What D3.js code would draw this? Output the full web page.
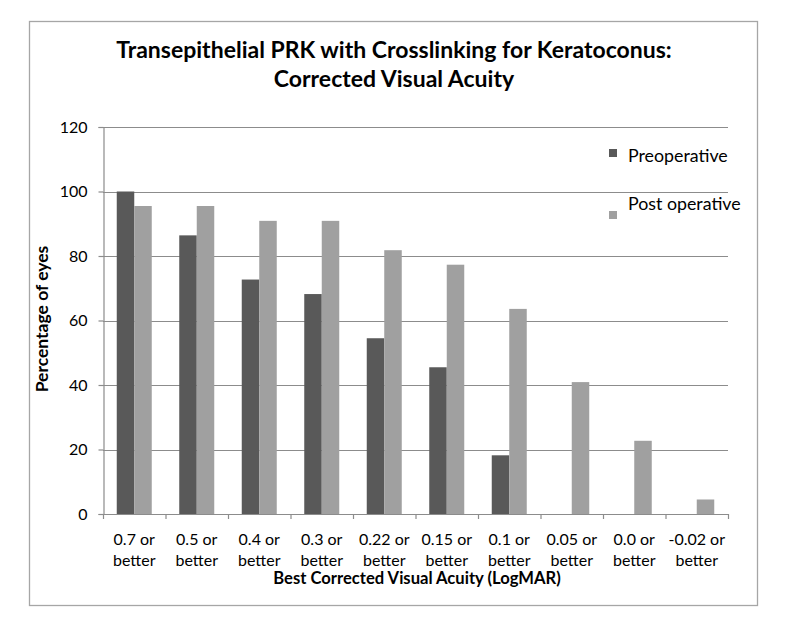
<!DOCTYPE html>
<html><head><meta charset="utf-8">
<script src="https://cdn.jsdelivr.net/npm/d3@7"></script>
<style>body{margin:0;background:#fff}svg{display:block}text{font-family:Lato,"Open Sans",sans-serif;fill:#000}</style>
</head><body>
<script>
const categories = ["0.7 or better","0.5 or better","0.4 or better","0.3 or better","0.22 or better","0.15 or better","0.1 or better","0.05 or better","0.0 or better","-0.02 or better"];
const preoperative = [100, 86.4, 72.7, 68.2, 54.5, 45.5, 18.2, 0, 0, 0];
const postoperative = [95.5, 95.5, 90.9, 90.9, 81.8, 77.3, 63.6, 40.9, 22.7, 4.5];
const yTicks = [0, 20, 40, 60, 80, 100, 120];
const seriesNames = ["Preoperative", "Post operative"];
const colors = ["#595959", "#a0a0a0"];

const W = 789, H = 636;
const svg = d3.select("body").append("svg").attr("width", W).attr("height", H);

svg.append("rect").attr("x", 29.5).attr("y", 21.5).attr("width", 728).attr("height", 584)
  .attr("fill", "#fff").attr("stroke", "#a6a6a6").attr("stroke-width", 1.3);

const x0 = 103, x1 = 728, yTop = 127, yBot = 514;
const x = d3.scaleBand().domain(categories).range([x0, x1]).paddingInner(0).paddingOuter(0);
const y = d3.scaleLinear().domain([0, 120]).range([yBot, yTop]);

// gridlines
svg.append("g").selectAll("line").data(yTicks.filter(d => d > 0)).join("line")
  .attr("x1", x0).attr("x2", x1).attr("y1", d => Math.round(y(d)) + 0.5).attr("y2", d => Math.round(y(d)) + 0.5)
  .attr("stroke", "#8c8c8c").attr("stroke-width", 1.2);

// y axis
const yAxis = svg.append("g").attr("transform", `translate(${x0 + 0.5},0)`)
  .call(d3.axisLeft(y).tickValues(yTicks).tickSize(5).tickPadding(11));
yAxis.select(".domain").attr("stroke", "#8c8c8c").attr("stroke-width", 1.2);
yAxis.selectAll(".tick line").attr("stroke", "#8c8c8c").attr("stroke-width", 1.2);
yAxis.selectAll(".tick text").attr("font-size", 16).attr("font-family", "Lato").attr("fill", "#000");

// bars
const bw = x.bandwidth() * 0.28;
const off = (x.bandwidth() - 2 * bw) / 2;
const series = [preoperative, postoperative];
series.forEach((vals, si) => {
  svg.append("g").selectAll("rect").data(vals).join("rect")
    .attr("x", (d, i) => x(categories[i]) + off + si * bw)
    .attr("y", d => y(d))
    .attr("width", bw)
    .attr("height", d => yBot - y(d))
    .attr("fill", colors[si]);
});

// x axis
const xa = svg.append("g");
xa.append("line").attr("x1", x0).attr("x2", x1).attr("y1", yBot + 0.5).attr("y2", yBot + 0.5)
  .attr("stroke", "#8c8c8c").attr("stroke-width", 1.2);
const bounds = categories.map(c => x(c)).concat([x1]);
xa.selectAll("line.tk").data(bounds).join("line").attr("class", "tk")
  .attr("x1", d => d + 0.5).attr("x2", d => d + 0.5).attr("y1", yBot).attr("y2", yBot + 5)
  .attr("stroke", "#8c8c8c").attr("stroke-width", 1.2);
categories.forEach(c => {
  const parts = c.split(" or ");
  const t = xa.append("text").attr("text-anchor", "middle").attr("font-size", 16)
    .attr("x", x(c) + x.bandwidth() / 2);
  t.append("tspan").attr("x", x(c) + x.bandwidth() / 2).attr("y", 545).text(parts[0] + " or");
  t.append("tspan").attr("x", x(c) + x.bandwidth() / 2).attr("y", 566).text(parts[1]);
});

// axis titles
svg.append("text").attr("x", 417).attr("y", 584).attr("text-anchor", "middle")
  .attr("font-weight", "bold").attr("font-size", 16.6).text("Best Corrected Visual Acuity (LogMAR)");
svg.append("text").attr("transform", "translate(48,319) rotate(-90)").attr("text-anchor", "middle")
  .attr("font-weight", "bold").attr("font-size", 17.5).text("Percentage of eyes");

// title
const title = svg.append("text").attr("text-anchor", "middle").attr("font-weight", "bold").attr("font-size", 23);
title.append("tspan").attr("x", 394).attr("y", 58).text("Transepithelial PRK with Crosslinking for Keratoconus:");
title.append("tspan").attr("x", 394).attr("y", 87).text("Corrected Visual Acuity");

// legend
const leg = [{sy: 149, ty: 162}, {sy: 211, ty: 210}];
seriesNames.forEach((n, i) => {
  svg.append("rect").attr("x", 609).attr("y", leg[i].sy).attr("width", 8).attr("height", 8).attr("fill", colors[i]);
  svg.append("text").attr("x", 628).attr("y", leg[i].ty).attr("font-size", 17.8).text(n);
});
</script>
</body></html>
